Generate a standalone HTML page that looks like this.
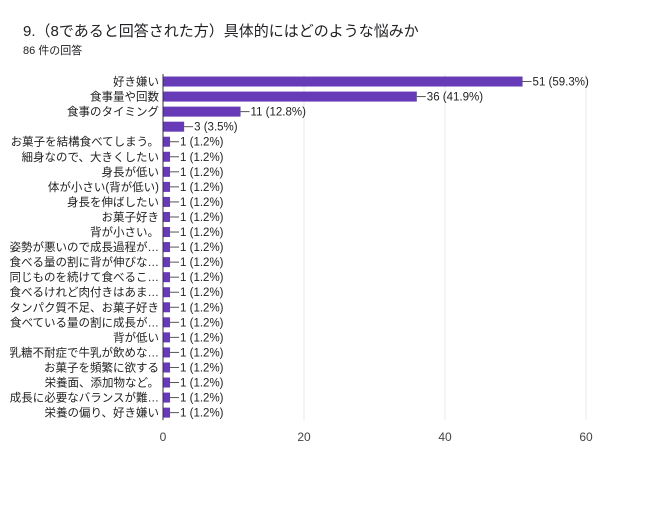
<!DOCTYPE html>
<html><head><meta charset="utf-8"><style>
body{margin:0;background:#fff;font-family:"Liberation Sans","Noto Sans CJK JP",sans-serif;}
#wrap{position:relative;width:650px;height:505px;overflow:hidden;}
</style></head><body>
<div id="wrap">
<div style="position:absolute;left:23px;top:20px;font-size:15px;color:#202124;">9.（8であると回答された方）具体的にはどのような悩みか</div>
<div style="position:absolute;left:23px;top:42px;font-size:11px;color:#202124;">86 件の回答</div>
<svg id="chart" width="650" height="505" style="position:absolute;left:0;top:0"></svg>
</div>
<script>
const categories=["好き嫌い","食事量や回数","食事のタイミング","","お菓子を結構食べてしまう。","細身なので、大きくしたい","身長が低い","体が小さい(背が低い)","身長を伸ばしたい","お菓子好き","背が小さい。","姿勢が悪いので成長過程が…","食べる量の割に背が伸びな…","同じものを続けて食べるこ…","食べるけれど肉付きはあま…","タンパク質不足、お菓子好き","食べている量の割に成長が…","背が低い","乳糖不耐症で牛乳が飲めな…","お菓子を頻繁に欲する","栄養面、添加物など。","成長に必要なバランスが難…","栄養の偏り、好き嫌い"];
const values=[51,36,11,3,1,1,1,1,1,1,1,1,1,1,1,1,1,1,1,1,1,1,1];
const total=86;
const ticks=[0,20,40,60];
const NS="http://www.w3.org/2000/svg";
const svg=document.getElementById('chart');
const x0=163,x1=586,xmax=60,yTop=74,rowH=15.05;
function xs(v){return x0+(x1-x0)*v/xmax;}
function ys(i){return yTop+rowH*i+rowH/2;}
function mk(t,a){const e=document.createElementNS(NS,t);for(const k in a)e.setAttribute(k,a[k]);svg.appendChild(e);return e;}
const yBottom=yTop+rowH*categories.length;
ticks.forEach(t=>{
 if(t>0){const g=mk('line',{x1:xs(t),x2:xs(t),y1:yTop,y2:yBottom,stroke:'#e8e8e8'});
 
 }
 const l=mk('text',{x:xs(t),y:yBottom+21,'text-anchor':'middle','font-size':'12',fill:'#444'});
 l.textContent=t;
 
 
});
categories.forEach((c,i)=>{
 const y=ys(i),v=values[i];
 const b=mk('rect',{x:x0,y:y-5,width:xs(v)-x0,height:10,fill:'#673ab7'});
 
 
 const ln=mk('line',{x1:xs(v),x2:xs(v)+9,y1:y,y2:y,stroke:'#555','stroke-width':1});
 
 
 const vt=mk('text',{x:xs(v)+10,y:y+4,'font-size':'11.5',fill:'#222'});
 vt.textContent=v+' ('+(v/total*100).toFixed(1)+'%)';
 
 
 const ct=mk('text',{x:159,y:y+4,'text-anchor':'end','font-size':'11.5',fill:'#222'});
 ct.textContent=c;
 
 
});
const ax=mk('line',{x1:x0,x2:x0,y1:yTop,y2:yBottom,stroke:'#333','stroke-width':1});


</script>
</body></html>
